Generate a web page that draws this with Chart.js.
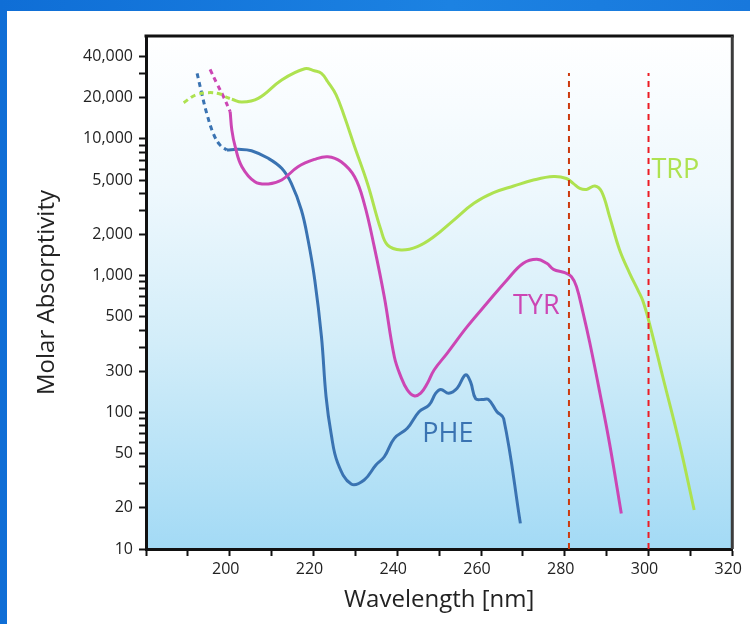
<!DOCTYPE html>
<html>
<head>
<meta charset="utf-8">
<title>Aromatic amino acid absorption</title>
<script src="https://cdn.jsdelivr.net/npm/chart.js@4.4.1/dist/chart.umd.min.js"></script>
<style>
  html, body { margin: 0; padding: 0; }
  body {
    width: 750px; height: 624px; overflow: hidden; position: relative;
    background: linear-gradient(90deg, #0f6ed6, #1c82e2 60%, #1878dc);
  }
  #panel { position: absolute; left: 7px; top: 11px; width: 743px; height: 613px; background: #fff; }
  canvas { display: block; }
</style>
</head>
<body>
<div id="panel"><canvas id="spectra" width="743" height="613"></canvas></div>
<script>
// Tryptophan
const trpDashNm  = [189.0, 191.8, 194.9, 197.7, 199.3, 200.5];
const trpDashAbs = [18400, 20950, 21800, 21300, 20150, 19500];
const trpNm  = [200.5, 202.9, 206.8, 212.4, 217.9, 220.2, 221.9, 223.4, 225.4, 227.4, 229.8, 232.9, 236.1, 237.7,
                240.9, 244.8, 248.8, 253.5, 258.3, 263.0, 267.8, 272.5, 277.3, 280.4, 282.0, 283.6, 285.2, 287.2,
                288.8, 290.7, 293.1, 295.5, 297.5, 298.6, 300.2, 303.4, 307.4, 310.9];
const trpAbs = [19500, 18600, 19800, 27000, 32600, 31500, 30200, 26200, 21000, 14500, 8800, 4700, 2160, 1670,
                1540, 1630, 1930, 2550, 3380, 4040, 4520, 5000, 5300, 5130, 4730, 4350, 4270, 4520,
                4110, 2700, 1540, 1040, 780, 660, 450, 182, 59, 19.3];

// Tyrosine
const tyrDashNm  = [195.3, 196.9, 198.5, 200.1];
const tyrDashAbs = [32300, 25500, 20400, 15800];
const tyrNm  = [200.1, 200.5, 201.3, 202.9, 206.0, 209.2, 212.4, 216.3, 220.3, 223.4, 226.6, 229.8, 232.1, 234.5,
                236.9, 239.3, 240.9, 242.4, 244.0, 245.6, 247.2, 248.8, 251.9, 256.7, 261.4, 266.2, 270.1, 273.3,
                275.7, 277.3, 280.0, 281.6, 282.8, 284.4, 286.0, 288.4, 290.7, 293.5];
const tyrAbs = [15800, 11600, 8770, 6260, 4860, 4680, 5000, 6260, 7090, 7410, 6810, 5290, 3380, 1630,
                700, 255, 181, 146, 132, 138, 163, 204, 270, 423, 627, 929, 1230, 1316,
                1230, 1112, 1050, 982, 830, 530, 320, 138, 59, 18.2];

// Phenylalanine
const pheDashNm  = [192.2, 193.3, 194.5, 196.1, 197.7, 199.3];
const pheDashAbs = [30200, 21600, 15400, 10900, 9000, 8300];
const pheNm  = [199.3, 202.1, 205.2, 209.2, 212.4, 214.7, 217.1, 218.7, 220.3, 221.9, 223.0, 224.2, 225.8,
                229.0, 232.1, 234.9, 236.9, 239.3, 242.4, 245.2, 247.6, 249.2, 250.4, 252.3, 254.3, 256.3, 257.5,
                258.7, 260.3, 261.8, 263.8, 265.4, 269.4];
const pheAbs = [8300, 8390, 8200, 7210, 6090, 4730, 3020, 1820, 929, 357, 130, 70, 42.4,
                29.9, 32, 41.2, 47.3, 64.5, 76.4, 101, 113, 138, 147, 138, 150, 188, 167,
                126, 124, 124, 101, 90, 15.4];

// reference wavelengths (dashed verticals) and their extent
const refNm = [281, 300];
const refAbs = [10, 30300];

// curve names and where they are written
const seriesNames = ['TRP', 'TYR', 'PHE'];
const nameNm  = [306.4, 273.2, 252.1];
const nameAbs = [5920, 592, 69];

// axis ticks
const xTickLabels = [200, 220, 240, 260, 280, 300, 320];
const yTickValues = [10, 20, 50, 100, 200, 500, 1000, 2000, 5000, 10000, 20000, 40000];
const yTickLabels = ['10', '20', '50', '100', '300', '500', '1,000', '2,000', '5,000', '10,000', '20,000', '40,000'];

const green = '#aee250';
const magenta = '#cc46b4';
const blue = '#3a73b2';

const pts = (xs, ys) => xs.map((x, i) => ({ x: x, y: ys[i] }));

const yAllTicks = [];
for (let d = 10; d <= 10000; d *= 10) {
  for (let k = 1; k <= 9; k++) {
    if (k * d <= 40000) yAllTicks.push(k * d);
  }
}

function curve(data, color, dashed) {
  return {
    data: data,
    borderColor: color,
    borderWidth: 3,
    borderDash: dashed ? [5, 4] : [],
    pointRadius: 0,
    tension: 0.4,
    fill: false
  };
}

function refLine(nm, color) {
  return {
    data: pts([nm, nm], refAbs),
    borderColor: color,
    borderWidth: 2,
    borderDash: [6, 5],
    pointRadius: 0,
    tension: 0
  };
}

const plotBackground = {
  id: 'plotBackground',
  beforeDraw(chart) {
    const { ctx, chartArea: a } = chart;
    const g = ctx.createLinearGradient(0, a.top, 0, a.bottom);
    g.addColorStop(0, '#ffffff');
    g.addColorStop(0.3, '#eef8fd');
    g.addColorStop(0.6, '#d2edf9');
    g.addColorStop(1, '#a3daf5');
    ctx.save();
    ctx.fillStyle = g;
    ctx.fillRect(a.left, a.top, a.right - a.left, a.bottom - a.top);
    ctx.restore();
  }
};

const frame = {
  id: 'frame',
  afterDraw(chart) {
    const { ctx, chartArea: a } = chart;
    ctx.save();
    ctx.lineWidth = 3;
    ctx.strokeStyle = '#111';
    ctx.beginPath();
    ctx.moveTo(a.left - 1.5, a.top);
    ctx.lineTo(a.right + 1.5, a.top);
    ctx.stroke();
    ctx.strokeStyle = '#3c3c3c';
    ctx.beginPath();
    ctx.moveTo(a.right, a.top);
    ctx.lineTo(a.right, a.bottom);
    ctx.stroke();
    ctx.restore();
  }
};

const curveNames = {
  id: 'curveNames',
  afterDatasetsDraw(chart) {
    const { ctx, scales } = chart;
    const colors = [green, magenta, blue];
    ctx.save();
    ctx.font = "27px 'Open Sans', sans-serif";
    ctx.textAlign = 'center';
    ctx.textBaseline = 'middle';
    seriesNames.forEach((name, i) => {
      ctx.fillStyle = colors[i];
      ctx.fillText(name, scales.x.getPixelForValue(nameNm[i]), scales.y.getPixelForValue(nameAbs[i]));
    });
    ctx.restore();
  }
};

Chart.defaults.font.family = "'Open Sans', sans-serif";
Chart.defaults.color = '#222';

const ctx = document.getElementById('spectra').getContext('2d');
const spectraChart = new Chart(ctx, {
  type: 'line',
  data: {
    datasets: [
      refLine(refNm[0], '#cc3a0e'),
      refLine(refNm[1], '#ec1c24'),
      curve(pts(trpDashNm, trpDashAbs), green, true),
      curve(pts(trpNm, trpAbs), green, false),
      curve(pts(tyrDashNm, tyrDashAbs), magenta, true),
      curve(pts(tyrNm, tyrAbs), magenta, false),
      curve(pts(pheDashNm, pheDashAbs), blue, true),
      curve(pts(pheNm, pheAbs), blue, false)
    ]
  },
  options: {
    responsive: false,
    animation: false,
    devicePixelRatio: 1,
    layout: { padding: { left: 0, right: 17, top: 25, bottom: 0 } },
    plugins: {
      legend: { display: false },
      tooltip: { enabled: false }
    },
    scales: {
      x: {
        type: 'linear',
        min: 180,
        max: 320,
        afterFit(scale) { scale.height = 75; },
        border: { display: true, width: 3, color: '#111' },
        grid: { drawOnChartArea: false, drawTicks: true, tickLength: 7, tickWidth: 2, tickColor: '#111' },
        ticks: {
          stepSize: 10,
          autoSkip: false,
          maxRotation: 0,
          padding: 4,
          labelOffset: -4,
          font: { size: 16 },
          callback: v => xTickLabels.includes(v) ? String(v) : ''
        },
        title: {
          display: true,
          text: 'Wavelength [nm]',
          font: { size: 24 },
          padding: { top: 0, bottom: 9 }
        }
      },
      y: {
        type: 'logarithmic',
        min: 10,
        max: 56600,
        afterFit(scale) { scale.width = 139; },
        afterBuildTicks(scale) { scale.ticks = yAllTicks.map(v => ({ value: v })); },
        border: { display: true, width: 3, color: '#111' },
        grid: { drawOnChartArea: false, drawTicks: true, tickLength: 7, tickWidth: 2, tickColor: '#111' },
        ticks: {
          autoSkip: false,
          padding: 6,
          font: { size: 16 },
          callback: v => {
            const i = yTickValues.indexOf(v);
            return i >= 0 ? yTickLabels[i] : '';
          }
        },
        title: {
          display: true,
          text: 'Molar Absorptivity',
          font: { size: 24 },
          padding: { top: 26, bottom: 0 }
        }
      }
    }
  },
  plugins: [plotBackground, frame, curveNames]
});
</script>
</body>
</html>
